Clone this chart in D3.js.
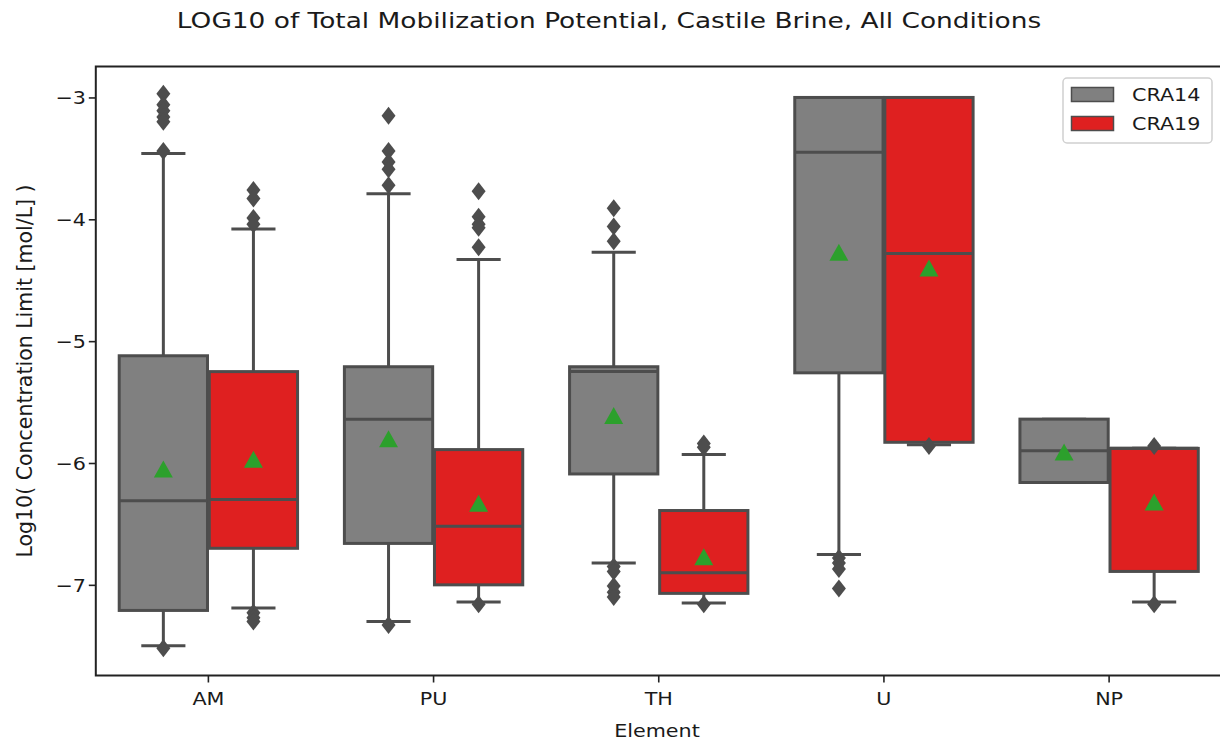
<html>
  <head>
    <script src="https://d3js.org/d3.v7.min.js"></script>
    <style>
      body { margin: 0; background: #fff; }
      text { font-family: "DejaVu Sans", sans-serif; fill: #1a1a1a; }
    </style>
  </head>
  <body>
    <div id="vis"></div>
  <script>
    // categories and series
    var elements = ["AM", "PU", "TH", "U", "NP"]
    var series = ["CRA14", "CRA19"]
    var yTicks = [-3, -4, -5, -6, -7]

    // box stats, one value per element
    var cra14Low    = [-7.50, -7.30, -6.82, -6.75, -6.16]
    var cra14Q1     = [-7.21, -6.66, -6.09, -5.26, -6.16]
    var cra14Median = [-6.31, -5.64, -5.25, -3.45, -5.90]
    var cra14Q3     = [-5.12, -5.21, -5.21, -3.00, -5.64]
    var cra14High   = [-3.46, -3.79, -4.27, -3.00, -5.64]
    var cra14Mean   = [-6.05, -5.80, -5.61, -4.27, -5.91]
    var cra14Out = [
      [-2.97, -3.06, -3.11, -3.16, -3.20, -3.44, -7.52],
      [-3.15, -3.44, -3.53, -3.59, -3.72, -7.33],
      [-3.91, -4.06, -4.18, -6.85, -6.89, -7.01, -7.06, -7.10],
      [-6.78, -6.82, -6.87, -7.03],
      []
    ]

    var cra19Low    = [-7.19, -7.14, -7.15, -5.85, -7.14]
    var cra19Q1     = [-6.70, -7.00, -7.07, -5.83, -6.89]
    var cra19Median = [-6.30, -6.52, -6.90, -4.28, -5.88]
    var cra19Q3     = [-5.25, -5.89, -6.39, -3.00, -5.88]
    var cra19High   = [-4.08, -4.33, -5.93, -3.00, -5.88]
    var cra19Mean   = [-5.97, -6.33, -6.77, -4.40, -6.32]
    var cra19Out = [
      [-3.76, -3.83, -3.99, -4.04, -7.23, -7.27, -7.30],
      [-3.77, -3.98, -4.04, -4.07, -4.23, -7.16],
      [-5.84, -5.87, -7.16],
      [-5.86],
      [-5.86, -7.16]
    ]

    var fills = ["#808080", "#df2020"]
    var lineCol = "#4d4d4d"

    var W = 1220, H = 744
    var pLeft = 95.8, pRight = 1221.7, pTop = 66.5, pBottom = 675.5
    // the picture's text is a little wider than it is tall
    var sx = 1.15

    var svg = d3.select("#vis").append("svg")
      .attr("width", W)
      .attr("height", H)

    var x = d3.scaleBand()
      .domain(elements)
      .range([pLeft, pRight])
      .padding(0)

    var y = d3.scaleLinear()
      .domain([-7.744, -2.746])
      .range([pBottom, pTop])

    // build box table from the arrays
    var boxes = []
    elements.forEach(function(el, i) {
      boxes.push({el: el, s: 0, low: cra14Low[i], q1: cra14Q1[i], med: cra14Median[i], q3: cra14Q3[i], high: cra14High[i], mean: cra14Mean[i], out: cra14Out[i]})
      boxes.push({el: el, s: 1, low: cra19Low[i], q1: cra19Q1[i], med: cra19Median[i], q3: cra19Q3[i], high: cra19High[i], mean: cra19Mean[i], out: cra19Out[i]})
    })

    var bw = x.bandwidth()
    var boxW = bw * 0.4 * 0.98
    function cx(d) { return x(d.el) + bw / 2 + (d.s === 0 ? -1 : 1) * bw * 0.2 }

    var plot = svg.append("g")

    var g = plot.selectAll("g.box").data(boxes).enter().append("g").attr("class", "box")

    // whiskers
    g.append("line")
      .attr("x1", cx).attr("x2", cx)
      .attr("y1", function(d) { return y(d.q3) }).attr("y2", function(d) { return y(d.high) })
      .attr("stroke", lineCol).attr("stroke-width", 3)
    g.append("line")
      .attr("x1", cx).attr("x2", cx)
      .attr("y1", function(d) { return y(d.q1) }).attr("y2", function(d) { return y(d.low) })
      .attr("stroke", lineCol).attr("stroke-width", 3)
    // caps
    g.append("line")
      .attr("x1", function(d) { return cx(d) - boxW / 4 }).attr("x2", function(d) { return cx(d) + boxW / 4 })
      .attr("y1", function(d) { return y(d.high) }).attr("y2", function(d) { return y(d.high) })
      .attr("stroke", lineCol).attr("stroke-width", 3)
    g.append("line")
      .attr("x1", function(d) { return cx(d) - boxW / 4 }).attr("x2", function(d) { return cx(d) + boxW / 4 })
      .attr("y1", function(d) { return y(d.low) }).attr("y2", function(d) { return y(d.low) })
      .attr("stroke", lineCol).attr("stroke-width", 3)

    // box body
    g.append("rect")
      .attr("x", function(d) { return cx(d) - boxW / 2 })
      .attr("width", boxW)
      .attr("y", function(d) { return y(d.q3) })
      .attr("height", function(d) { return y(d.q1) - y(d.q3) })
      .attr("fill", function(d) { return fills[d.s] })
      .attr("stroke", lineCol).attr("stroke-width", 3)

    // median
    g.append("line")
      .attr("x1", function(d) { return cx(d) - boxW / 2 }).attr("x2", function(d) { return cx(d) + boxW / 2 })
      .attr("y1", function(d) { return y(d.med) }).attr("y2", function(d) { return y(d.med) })
      .attr("stroke", lineCol).attr("stroke-width", 3)

    // fliers (thin diamonds)
    g.each(function(d) {
      d3.select(this).selectAll("path.flier").data(d.out).enter().append("path")
        .attr("class", "flier")
        .attr("d", function(v) {
          var px = cx(d), py = y(v)
          return "M" + px + "," + (py - 9) + "L" + (px + 7) + "," + py + "L" + px + "," + (py + 9) + "L" + (px - 7) + "," + py + "Z"
        })
        .attr("fill", lineCol)
    })

    // mean markers
    g.append("path")
      .attr("d", function(d) {
        var px = cx(d), py = y(d.mean)
        return "M" + px + "," + (py - 8.5) + "L" + (px + 9.5) + "," + (py + 8.5) + "L" + (px - 9.5) + "," + (py + 8.5) + "Z"
      })
      .attr("fill", "#2ca02c")

    // axes
    var xAxis = svg.append("g")
      .attr("transform", "translate(0," + pBottom + ")")
      .call(d3.axisBottom(x).tickSize(7).tickSizeOuter(0))
    var yAxis = svg.append("g")
      .attr("transform", "translate(" + pLeft + ",0)")
      .call(d3.axisLeft(y).tickValues(yTicks).tickSize(7).tickSizeOuter(0)
        .tickFormat(function(v) { return "\u2212" + Math.abs(v) }))
    ;[xAxis, yAxis].forEach(function(a) {
      a.select(".domain").remove()
      a.selectAll("line").attr("stroke", "#222").attr("stroke-width", 1.6)
      a.selectAll("text").attr("font-size", 18).attr("fill", "#1a1a1a")
        .attr("font-family", '"DejaVu Sans", sans-serif')
        .attr("transform", "scale(" + sx + ",1)")
    })
    xAxis.selectAll("text").attr("dy", "1.1em")
    yAxis.selectAll("text").attr("x", -8.5).attr("dy", "0.36em")

    // frame
    svg.append("rect")
      .attr("x", pLeft).attr("y", pTop)
      .attr("width", pRight - pLeft).attr("height", pBottom - pTop)
      .attr("fill", "none").attr("stroke", "#222").attr("stroke-width", 2)

    // title and labels
    function label(txt, px, py, size, anchor, stretch, rot) {
      var t = svg.append("g")
        .attr("transform", "translate(" + px + "," + py + ")" + (rot ? " rotate(-90)" : ""))
        .append("text")
        .text(txt)
        .attr("text-anchor", anchor)
        .attr("font-size", size)
      if (stretch !== 1) t.attr("transform", "scale(" + stretch + ",1)")
      return t
    }
    label("LOG10 of Total Mobilization Potential, Castile Brine, All Conditions", 609, 28, 22, "middle", 1.2)
    label("Element", 657, 737, 18, "middle", sx)
    label("Log10( Concentration Limit [mol/L] )", 32, (pTop + pBottom) / 2, 20.5, "middle", 1, true)

    // legend
    var leg = svg.append("g").attr("transform", "translate(1063,78)")
    leg.append("rect")
      .attr("width", 149).attr("height", 65).attr("rx", 4)
      .attr("fill", "#fff").attr("stroke", "#d0d0d0").attr("stroke-width", 1.5)
    series.forEach(function(s, i) {
      leg.append("rect")
        .attr("x", 8.5).attr("y", 9.5 + i * 29)
        .attr("width", 42).attr("height", 14)
        .attr("fill", fills[i]).attr("stroke", lineCol).attr("stroke-width", 1.5)
      leg.append("g").attr("transform", "translate(69," + (23 + i * 29) + ")")
        .append("text")
        .text(s)
        .attr("font-size", 18)
        .attr("transform", "scale(" + sx + ",1)")
    })
  </script>
  </body>
</html>
